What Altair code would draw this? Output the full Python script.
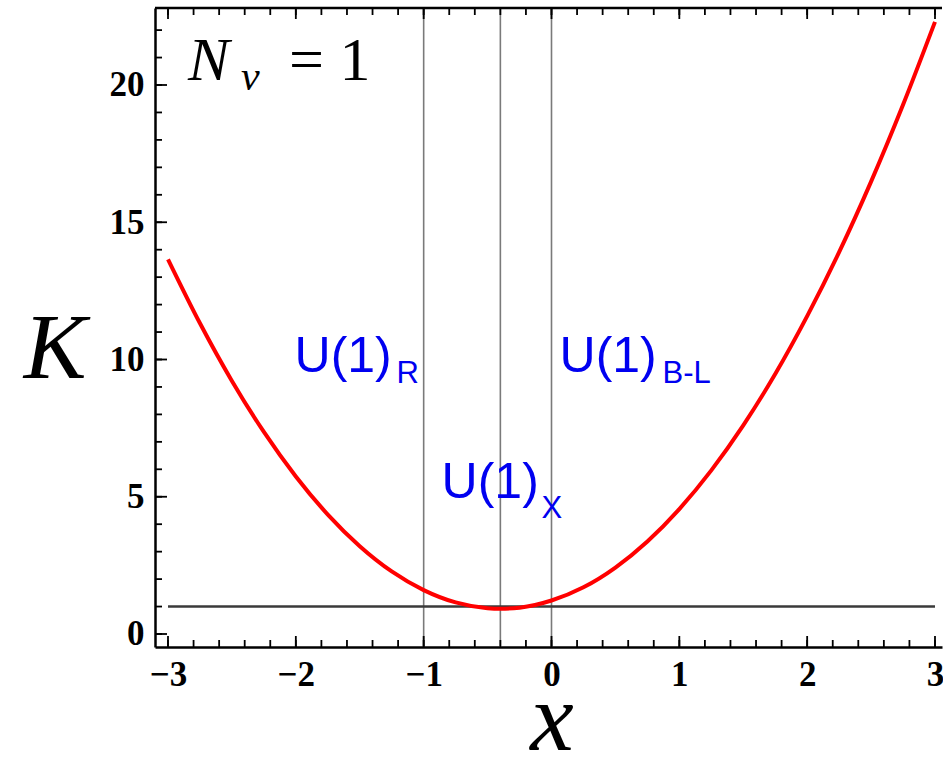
import altair as alt
import pandas as pd

# ---- data -------------------------------------------------------------
# K as a function of x (N_nu = 1)
curve_x = [-3.0, -2.75, -2.5, -2.25, -2.0, -1.75, -1.5, -1.25, -1.0, -0.75,
           -0.5, -0.4, -0.25, 0.0, 0.25, 0.5, 0.75, 1.0, 1.25, 1.5,
           1.75, 2.0, 2.25, 2.5, 2.75, 3.0]
curve_k = [13.65, 11.32, 9.22, 7.36, 5.74, 4.35, 3.20, 2.28, 1.60, 1.15,
           0.94, 0.92, 0.96, 1.22, 1.70, 2.42, 3.37, 4.55, 5.96, 7.60,
           9.47, 11.58, 13.91, 16.48, 19.28, 22.3]

# reference lines
vline_x = [-1.0, -0.4, 0.0]          # U(1)_R, U(1)_chi, U(1)_B-L
hline_k = 1.0
hline_span = [-3.0, 3.0]

# tick positions
x_major = [-3, -2, -1, 0, 1, 2, 3]
x_minor = [round(-3 + 0.2 * i, 1) for i in range(31)]
y_major = [0, 5, 10, 15, 20]
y_minor = list(range(0, 23))

# model labels: main text with its baseline, subscript with its own baseline
lab_main = ["U(1)", "U(1)", "U(1)"]
lab_sub = ["R", "B-L", "X"]
lab_x = [-2.01, 0.063, -0.86]
lab_k = [9.54, 9.54, 4.95]
sub_x = [-1.213, 0.868, -0.078]
sub_k = [9.14, 9.14, 4.23]

# ---- layout -----------------------------------------------------------
W, H = 787, 639
XDOM = [-3.1017, 3.0548]
YDOM = [-0.4736, 22.805]

xs = alt.Scale(domain=XDOM, nice=False, zero=False)
ys = alt.Scale(domain=YDOM, nice=False, zero=False)

SERIF = "Liberation Serif"
SANS = "Liberation Sans"
BLUE = "#0000f0"

x_axis = alt.Axis(values=x_major, format="d", title=None, grid=False, ticks=False,
                  labelFont=SERIF, labelFontWeight="bold", labelFontSize=35,
                  labelColor="black", labelPadding=10, labelBaseline="top",
                  domainColor="black", domainWidth=2.5)
y_axis = alt.Axis(values=y_major, format="d", title=None, grid=False, ticks=False,
                  labelFont=SERIF, labelFontWeight="bold", labelFontSize=35,
                  labelColor="black", labelPadding=11,
                  domainColor="black", domainWidth=2.5)

curve_df = pd.DataFrame({"x": curve_x, "K": curve_k})

vlines = alt.Chart(pd.DataFrame({"x": vline_x})).mark_rule(
    color="#7a7a7a", strokeWidth=1.6
).encode(x=alt.X("x:Q", scale=xs, axis=x_axis))

hline = alt.Chart(pd.DataFrame({"x": [hline_span[0]], "x2": [hline_span[1]], "K": [hline_k]})).mark_rule(
    color="#3a3a3a", strokeWidth=2.6
).encode(
    x=alt.X("x:Q", scale=xs),
    x2="x2:Q",
    y=alt.Y("K:Q", scale=ys, axis=y_axis),
)

curve = alt.Chart(curve_df).mark_line(
    color="#ff0000", strokeWidth=4, interpolate="monotone"
).encode(
    x=alt.X("x:Q", scale=xs),
    y=alt.Y("K:Q", scale=ys),
)


def xticks(values, length, top):
    y0 = 0 if top else H
    y1 = length if top else H - length
    return alt.Chart(pd.DataFrame({"v": values})).mark_rule(
        color="black", strokeWidth=1.8
    ).encode(x=alt.X("v:Q", scale=xs), y=alt.value(y0), y2=alt.value(y1))


def yticks(values, length):
    return alt.Chart(pd.DataFrame({"v": values})).mark_rule(
        color="black", strokeWidth=1.8
    ).encode(y=alt.Y("v:Q", scale=ys), x=alt.value(0), x2=alt.value(length))


ticks = [
    xticks(x_minor, 7, False), xticks(x_major, 11, False),
    xticks(x_minor, 7, True), xticks(x_major, 11, True),
    yticks(y_minor, 7), yticks(y_major, 12),
]

top_frame = alt.Chart(pd.DataFrame({"a": [0]})).mark_rule(
    color="black", strokeWidth=2.5
).encode(x=alt.value(0), x2=alt.value(W), y=alt.value(0))

labels_df = pd.DataFrame({"t": lab_main, "x": lab_x, "K": lab_k})
subs_df = pd.DataFrame({"t": lab_sub, "x": sub_x, "K": sub_k})

main_text = alt.Chart(labels_df).mark_text(
    font=SANS, fontSize=50, color=BLUE, align="left", baseline="alphabetic"
).encode(x=alt.X("x:Q", scale=xs), y=alt.Y("K:Q", scale=ys), text="t:N")

sub_text = alt.Chart(subs_df).mark_text(
    font=SANS, fontSize=31, color=BLUE, align="left", baseline="alphabetic"
).encode(x=alt.X("x:Q", scale=xs), y=alt.Y("K:Q", scale=ys), text="t:N")


def pix_text(txt, px, py, size, style="normal", align="left"):
    return alt.Chart(pd.DataFrame({"t": [txt]})).mark_text(
        font=SERIF, fontSize=size, fontStyle=style, color="black",
        align=align, baseline="alphabetic"
    ).encode(x=alt.value(px), y=alt.value(py), text="t:N")


titles = [
    pix_text("K", -100, 370, 94, "italic", "center"),
    pix_text("x", 397, 742, 98, "italic", "center"),
    pix_text("N", 33, 72, 62, "italic"),
    pix_text("ν", 86, 82, 42, "italic"),
    pix_text("= 1", 134, 72, 62),
]

chart = alt.layer(
    vlines, hline, curve, *ticks, top_frame, main_text, sub_text, *titles
).properties(
    width=W, height=H,
    autosize=alt.AutoSizeParams(type="none"),
    padding={"left": 155, "top": 8, "right": 1, "bottom": 118},
    background="white",
).configure_view(stroke=None)

chart.save("out.html", embed_options={"renderer": "svg", "actions": False})
